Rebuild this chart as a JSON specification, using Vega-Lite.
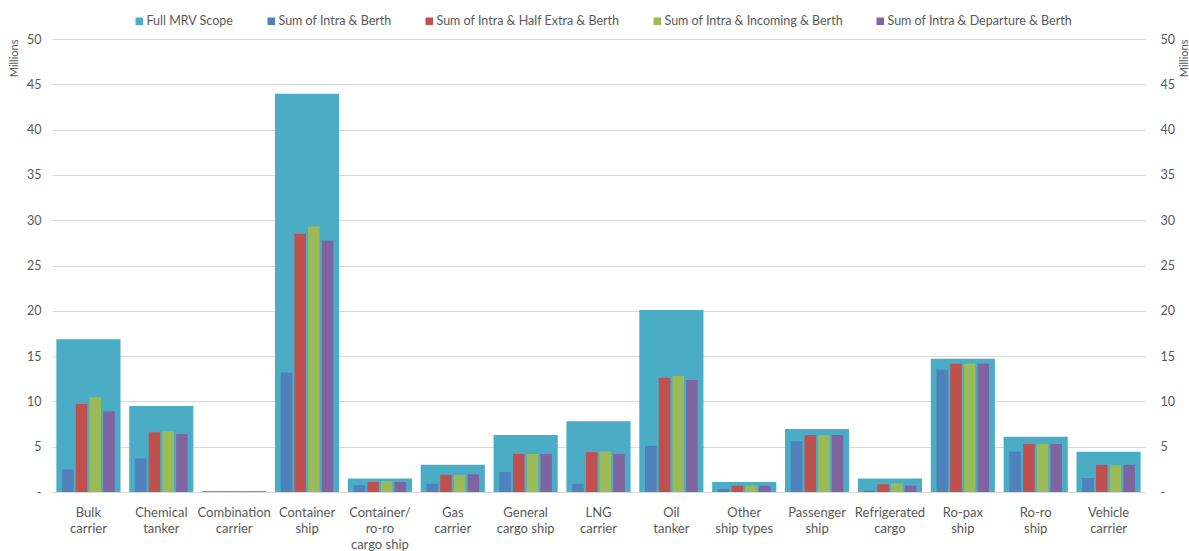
{
  "$schema": "https://vega.github.io/schema/vega-lite/v6.json",
  "width": 1093,
  "height": 453,
  "autosize": {"type": "none"},
  "padding": {"left": 52, "top": 39, "right": 44, "bottom": 59},
  "background": "white",
  "config": {
    "font": "Lato",
    "view": {"stroke": null},
    "axis": {"labelColor": "#595959", "titleColor": "#595959", "labelFont": "Lato", "titleFont": "Lato"}
  },
  "data": {"values": [
    {"category": "Bulk carrier", "series": "Full MRV Scope", "value": 16.85},
    {"category": "Bulk carrier", "series": "Sum of Intra & Berth", "value": 2.5},
    {"category": "Bulk carrier", "series": "Sum of Intra & Half Extra & Berth", "value": 9.7},
    {"category": "Bulk carrier", "series": "Sum of Intra & Incoming & Berth", "value": 10.45},
    {"category": "Bulk carrier", "series": "Sum of Intra & Departure & Berth", "value": 8.9},
    {"category": "Chemical tanker", "series": "Full MRV Scope", "value": 9.5},
    {"category": "Chemical tanker", "series": "Sum of Intra & Berth", "value": 3.7},
    {"category": "Chemical tanker", "series": "Sum of Intra & Half Extra & Berth", "value": 6.6},
    {"category": "Chemical tanker", "series": "Sum of Intra & Incoming & Berth", "value": 6.7},
    {"category": "Chemical tanker", "series": "Sum of Intra & Departure & Berth", "value": 6.4},
    {"category": "Combination carrier", "series": "Full MRV Scope", "value": 0.12},
    {"category": "Combination carrier", "series": "Sum of Intra & Berth", "value": 0.005},
    {"category": "Combination carrier", "series": "Sum of Intra & Half Extra & Berth", "value": 0.01},
    {"category": "Combination carrier", "series": "Sum of Intra & Incoming & Berth", "value": 0.01},
    {"category": "Combination carrier", "series": "Sum of Intra & Departure & Berth", "value": 0.01},
    {"category": "Container ship", "series": "Full MRV Scope", "value": 43.95},
    {"category": "Container ship", "series": "Sum of Intra & Berth", "value": 13.2},
    {"category": "Container ship", "series": "Sum of Intra & Half Extra & Berth", "value": 28.5},
    {"category": "Container ship", "series": "Sum of Intra & Incoming & Berth", "value": 29.3},
    {"category": "Container ship", "series": "Sum of Intra & Departure & Berth", "value": 27.75},
    {"category": "Container/ro-ro cargo ship", "series": "Full MRV Scope", "value": 1.5},
    {"category": "Container/ro-ro cargo ship", "series": "Sum of Intra & Berth", "value": 0.75},
    {"category": "Container/ro-ro cargo ship", "series": "Sum of Intra & Half Extra & Berth", "value": 1.1},
    {"category": "Container/ro-ro cargo ship", "series": "Sum of Intra & Incoming & Berth", "value": 1.2},
    {"category": "Container/ro-ro cargo ship", "series": "Sum of Intra & Departure & Berth", "value": 1.1},
    {"category": "Gas carrier", "series": "Full MRV Scope", "value": 3.0},
    {"category": "Gas carrier", "series": "Sum of Intra & Berth", "value": 0.9},
    {"category": "Gas carrier", "series": "Sum of Intra & Half Extra & Berth", "value": 1.9},
    {"category": "Gas carrier", "series": "Sum of Intra & Incoming & Berth", "value": 1.9},
    {"category": "Gas carrier", "series": "Sum of Intra & Departure & Berth", "value": 1.95},
    {"category": "General cargo ship", "series": "Full MRV Scope", "value": 6.3},
    {"category": "General cargo ship", "series": "Sum of Intra & Berth", "value": 2.2},
    {"category": "General cargo ship", "series": "Sum of Intra & Half Extra & Berth", "value": 4.2},
    {"category": "General cargo ship", "series": "Sum of Intra & Incoming & Berth", "value": 4.2},
    {"category": "General cargo ship", "series": "Sum of Intra & Departure & Berth", "value": 4.2},
    {"category": "LNG carrier", "series": "Full MRV Scope", "value": 7.8},
    {"category": "LNG carrier", "series": "Sum of Intra & Berth", "value": 0.9},
    {"category": "LNG carrier", "series": "Sum of Intra & Half Extra & Berth", "value": 4.4},
    {"category": "LNG carrier", "series": "Sum of Intra & Incoming & Berth", "value": 4.5},
    {"category": "LNG carrier", "series": "Sum of Intra & Departure & Berth", "value": 4.2},
    {"category": "Oil tanker", "series": "Full MRV Scope", "value": 20.1},
    {"category": "Oil tanker", "series": "Sum of Intra & Berth", "value": 5.1},
    {"category": "Oil tanker", "series": "Sum of Intra & Half Extra & Berth", "value": 12.6},
    {"category": "Oil tanker", "series": "Sum of Intra & Incoming & Berth", "value": 12.8},
    {"category": "Oil tanker", "series": "Sum of Intra & Departure & Berth", "value": 12.35},
    {"category": "Other ship types", "series": "Full MRV Scope", "value": 1.1},
    {"category": "Other ship types", "series": "Sum of Intra & Berth", "value": 0.35},
    {"category": "Other ship types", "series": "Sum of Intra & Half Extra & Berth", "value": 0.7},
    {"category": "Other ship types", "series": "Sum of Intra & Incoming & Berth", "value": 0.7},
    {"category": "Other ship types", "series": "Sum of Intra & Departure & Berth", "value": 0.7},
    {"category": "Passenger ship", "series": "Full MRV Scope", "value": 6.95},
    {"category": "Passenger ship", "series": "Sum of Intra & Berth", "value": 5.6},
    {"category": "Passenger ship", "series": "Sum of Intra & Half Extra & Berth", "value": 6.3},
    {"category": "Passenger ship", "series": "Sum of Intra & Incoming & Berth", "value": 6.3},
    {"category": "Passenger ship", "series": "Sum of Intra & Departure & Berth", "value": 6.3},
    {"category": "Refrigerated cargo", "series": "Full MRV Scope", "value": 1.5},
    {"category": "Refrigerated cargo", "series": "Sum of Intra & Berth", "value": 0.15},
    {"category": "Refrigerated cargo", "series": "Sum of Intra & Half Extra & Berth", "value": 0.85},
    {"category": "Refrigerated cargo", "series": "Sum of Intra & Incoming & Berth", "value": 0.95},
    {"category": "Refrigerated cargo", "series": "Sum of Intra & Departure & Berth", "value": 0.7},
    {"category": "Ro-pax ship", "series": "Full MRV Scope", "value": 14.7},
    {"category": "Ro-pax ship", "series": "Sum of Intra & Berth", "value": 13.5},
    {"category": "Ro-pax ship", "series": "Sum of Intra & Half Extra & Berth", "value": 14.15},
    {"category": "Ro-pax ship", "series": "Sum of Intra & Incoming & Berth", "value": 14.15},
    {"category": "Ro-pax ship", "series": "Sum of Intra & Departure & Berth", "value": 14.15},
    {"category": "Ro-ro ship", "series": "Full MRV Scope", "value": 6.1},
    {"category": "Ro-ro ship", "series": "Sum of Intra & Berth", "value": 4.45},
    {"category": "Ro-ro ship", "series": "Sum of Intra & Half Extra & Berth", "value": 5.3},
    {"category": "Ro-ro ship", "series": "Sum of Intra & Incoming & Berth", "value": 5.3},
    {"category": "Ro-ro ship", "series": "Sum of Intra & Departure & Berth", "value": 5.3},
    {"category": "Vehicle carrier", "series": "Full MRV Scope", "value": 4.45},
    {"category": "Vehicle carrier", "series": "Sum of Intra & Berth", "value": 1.55},
    {"category": "Vehicle carrier", "series": "Sum of Intra & Half Extra & Berth", "value": 3.0},
    {"category": "Vehicle carrier", "series": "Sum of Intra & Incoming & Berth", "value": 2.95},
    {"category": "Vehicle carrier", "series": "Sum of Intra & Departure & Berth", "value": 3.0}
  ]},
  "encoding": {
    "x": {
      "field": "category", "type": "nominal", "sort": null,
      "scale": {"paddingInner": 0.12, "paddingOuter": 0.06},
      "axis": {
        "title": null, "labelAngle": 0, "ticks": false, "domainColor": "#D9D9D9", "domainWidth": 1,
        "labelFontSize": 13, "labelLineHeight": 16, "labelPadding": 14, "labelBaseline": "top",
        "labelExpr": "datum.label == 'General cargo ship' ? ['General', 'cargo ship'] : datum.label == 'Other ship types' ? ['Other', 'ship types'] : datum.label == 'Container/ro-ro cargo ship' ? ['Container/', 'ro-ro', 'cargo ship'] : split(datum.label, ' ')"
      }
    },
    "color": {
      "field": "series", "type": "nominal",
      "scale": {
        "domain": ["Full MRV Scope", "Sum of Intra & Berth", "Sum of Intra & Half Extra & Berth", "Sum of Intra & Incoming & Berth", "Sum of Intra & Departure & Berth"],
        "range": ["#4BACC6", "#4F81BD", "#C0504D", "#9BBB59", "#8064A2"]
      },
      "legend": {
        "title": null, "orient": "none", "direction": "horizontal", "legendX": 81, "legendY": -24,
        "symbolType": "square", "symbolSize": 56, "symbolStrokeWidth": 0, "labelFontSize": 12.5, "labelColor": "#595959",
        "labelOffset": 1, "columnPadding": 31, "padding": 0, "labelFont": "Lato", "labelLimit": 400, "gridAlign": "none"
      }
    }
  },
  "layer": [
    {
      "transform": [{"filter": "datum.series == 'Full MRV Scope'"}],
      "mark": {"type": "bar"},
      "encoding": {
        "y": {
          "field": "value", "type": "quantitative",
          "scale": {"domain": [0, 50], "nice": false},
          "axis": {
            "title": "Millions", "titleFontSize": 11, "titleFontWeight": "normal", "titleAngle": 270,
            "titleX": -38, "titleY": 0, "titleAlign": "right", "titleBaseline": "middle",
            "values": [0, 5, 10, 15, 20, 25, 30, 35, 40, 45, 50],
            "labelExpr": "datum.value == 0 ? '-' : datum.label",
            "labelFontSize": 12.5, "labelPadding": 11, "ticks": false, "domain": false,
            "grid": true, "gridColor": "#D9D9D9", "gridWidth": 1
          }
        }
      }
    },
    {
      "transform": [{"filter": "datum.series != 'Full MRV Scope'"}],
      "mark": {"type": "bar"},
      "encoding": {
        "xOffset": {
          "field": "series", "type": "nominal",
          "scale": {"domain": ["Sum of Intra & Berth", "Sum of Intra & Half Extra & Berth", "Sum of Intra & Incoming & Berth", "Sum of Intra & Departure & Berth"], "paddingInner": 0.16, "paddingOuter": 0.42}
        },
        "y": {
          "field": "value", "type": "quantitative",
          "scale": {"domain": [0, 50], "nice": false},
          "axis": {
            "orient": "right", "title": "Millions", "titleFontSize": 11, "titleFontWeight": "normal", "titleAngle": 270,
            "titleX": 39, "titleY": 0, "titleAlign": "right", "titleBaseline": "middle",
            "values": [0, 5, 10, 15, 20, 25, 30, 35, 40, 45, 50],
            "labelExpr": "datum.value == 0 ? '-' : datum.label",
            "labelFontSize": 12.5, "labelPadding": 15, "ticks": false, "domain": false, "grid": false
          }
        }
      }
    }
  ],
  "resolve": {"scale": {"y": "independent"}}
}
